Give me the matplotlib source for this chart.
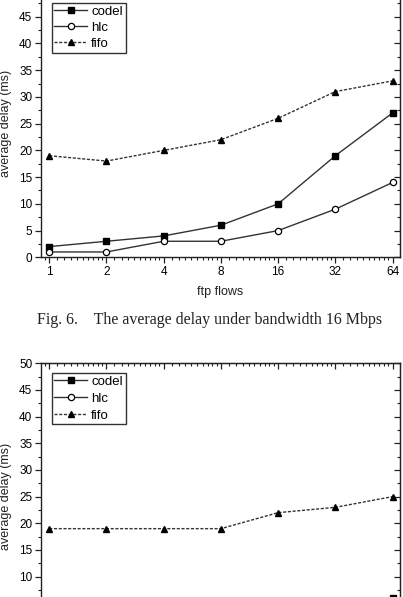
import numpy as np
import matplotlib
matplotlib.use('Agg')
import matplotlib.pyplot as plt
from matplotlib.ticker import FixedLocator, MultipleLocator, NullFormatter

plt.rcParams['font.family'] = ['Liberation Sans', 'DejaVu Sans']

# data
flows = [1, 2, 4, 8, 16, 32, 64]
flow_labels = ['1', '2', '4', '8', '16', '32', '64']

# Fig. 6 (16 Mbps)
codel_16 = [2, 3, 4, 6, 10, 19, 27]
hlc_16 = [1, 1, 3, 3, 5, 9, 14]
fifo_16 = [19, 18, 20, 22, 26, 31, 33]

# next figure (cut off at bottom)
codel_b = [1, 1, 1, 2, 2, 3, 6]
hlc_b = [1, 1, 1, 1, 1, 1, 2]
fifo_b = [19, 19, 19, 19, 22, 23, 25]

W, H = 403, 597
fig = plt.figure(figsize=(W / 100, H / 100), dpi=100)

minor_x = [m * 2.0**k for k in range(-1, 7) for m in np.arange(1.1, 2.0, 0.1)]
line_col = '#333333'


def make_axes(top_px, bottom_px, codel, hlc, fifo, show_x=True):
    left, right = 40.7, 400.0
    ax = fig.add_axes([left / W, (H - bottom_px) / H, (right - left) / W,
                       (bottom_px - top_px) / H])
    ax.plot(flows, codel, '-', color=line_col, lw=1.0, marker='s', ms=4.2,
            mfc='black', mec='black', label='codel')
    ax.plot(flows, hlc, '-', color=line_col, lw=1.0, marker='o', ms=4.5,
            mfc='white', mec='black', mew=0.9, label='hlc')
    ax.plot(flows, fifo, color=line_col, lw=1.0, ls=(0, (2.2, 1.2)), marker='^',
            ms=5, mfc='black', mec='black', label='fifo')
    ax.set_xscale('log', base=2)
    ax.set_xlim(2**-0.15, 2**6.13)
    ax.set_ylim(0, 50)
    ax.xaxis.set_major_locator(FixedLocator(flows))
    ax.set_xticklabels(flow_labels if show_x else [''] * len(flows))
    ax.xaxis.set_minor_locator(FixedLocator(minor_x))
    ax.xaxis.set_minor_formatter(NullFormatter())
    ax.yaxis.set_major_locator(MultipleLocator(5))
    ax.yaxis.set_minor_locator(MultipleLocator(2.5))
    ax.tick_params(which='major', direction='out', length=4, width=0.9,
                   labelsize=8.5, color='#222', pad=2)
    ax.tick_params(which='minor', direction='out', length=2.3, width=0.8, color='#222')
    for s in ax.spines.values():
        s.set_linewidth(1.0)
        s.set_color('#222')
    # mirrored ticks pointing inside on top and right
    top = ax.secondary_xaxis('top')
    top.xaxis.set_major_locator(FixedLocator(flows))
    top.xaxis.set_minor_locator(FixedLocator(minor_x))
    top.xaxis.set_major_formatter(NullFormatter())
    top.xaxis.set_minor_formatter(NullFormatter())
    top.tick_params(which='major', direction='in', length=4, width=0.9, color='#222')
    top.tick_params(which='minor', direction='in', length=2.3, width=0.8, color='#222')
    rgt = ax.secondary_yaxis('right')
    rgt.yaxis.set_major_locator(MultipleLocator(5))
    rgt.yaxis.set_minor_locator(MultipleLocator(2.5))
    rgt.yaxis.set_major_formatter(NullFormatter())
    rgt.tick_params(which='major', direction='in', length=4, width=0.9, color='#222')
    rgt.tick_params(which='minor', direction='in', length=2.3, width=0.8, color='#222')
    ax.set_ylabel('average delay (ms)', fontsize=9, labelpad=5, color='#222')
    if show_x:
        ax.set_xlabel('ftp flows', fontsize=9, labelpad=6, color='#222')
    return ax


ax1 = make_axes(-10.0, 257.3, codel_16, hlc_16, fifo_16)
ax2 = make_axes(363.3, 630.0, codel_b, hlc_b, fifo_b, show_x=False)

for ax, off, sp in [(ax1, 12.7, 0.3), (ax2, 9.4, 0.36)]:
    # legend anchored a fixed pixel distance under the top spine
    leg = ax.legend(loc='upper left', bbox_to_anchor=((51.7 - 40.7) / (400 - 40.7), 1 - off / 267.0),
                    fontsize=9.5, frameon=True, fancybox=False, handlelength=2.5,
                    handletextpad=0.3, borderpad=0.2, labelspacing=sp,
                    borderaxespad=0, framealpha=1)
    leg.get_frame().set_edgecolor('#333')
    leg.get_frame().set_linewidth(1.0)

fig.text(210 / W, 1 - 320 / H, 'Fig. 6.    The average delay under bandwidth 16 Mbps',
         ha='center', va='center', fontsize=11.5, family='Liberation Serif', color='#222')

fig.savefig('out.png', dpi=100)
